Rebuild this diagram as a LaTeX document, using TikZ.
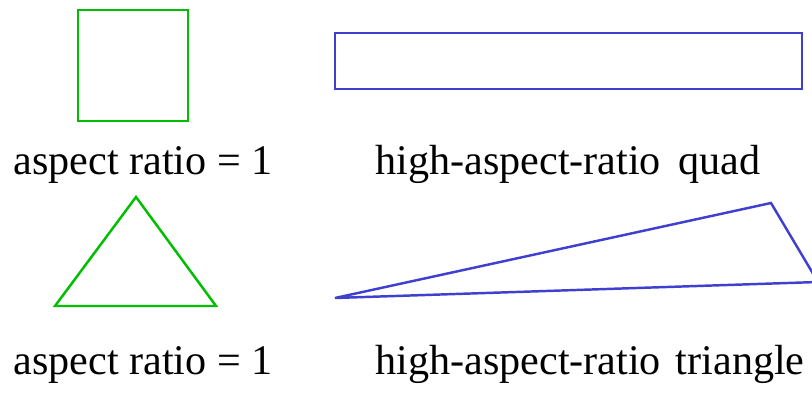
\documentclass[tikz,border=0pt]{standalone}
\usepackage{fontspec}
\setmainfont{Liberation Serif}
\usepackage{tikz}
\usetikzlibrary{positioning}

\definecolor{okgreen}{RGB}{0,190,0}
\definecolor{badblue}{RGB}{64,64,208}

\begin{document}
\begin{tikzpicture}[x=0.02cm, y=-0.02cm,
  good/.style={draw=okgreen, line width=1.4pt, line join=miter},
  bad/.style={draw=badblue, line width=1.4pt, line join=miter},
  caption/.style={anchor=base west, inner sep=0pt, font=\fontsize{24}{28}\selectfont},
]
  \useasboundingbox (0,0) rectangle (812,394);
  \clip (0,0) rectangle (812,394);

  % quads
  \draw[good] (78,10) rectangle (188,121);
  \draw[bad] (335,33) rectangle (802,89);
  \node[caption] (sq) at (13,175) {aspect ratio = 1};
  \node[caption] (quad) at (375,175) {high-aspect-ratio\hspace{0.42em}quad};

  % triangles
  \draw[good] (55,306) -- (216,306) -- (136,197) -- cycle;
  \draw[bad] (335,298) -- (818,282) -- (771,203) -- cycle;
  \node[caption] (eq) at (13,375) {aspect ratio = 1};
  \node[caption] (tri) at (375,375) {high-aspect-ratio\hspace{0.35em}triangle};
\end{tikzpicture}
\end{document}
